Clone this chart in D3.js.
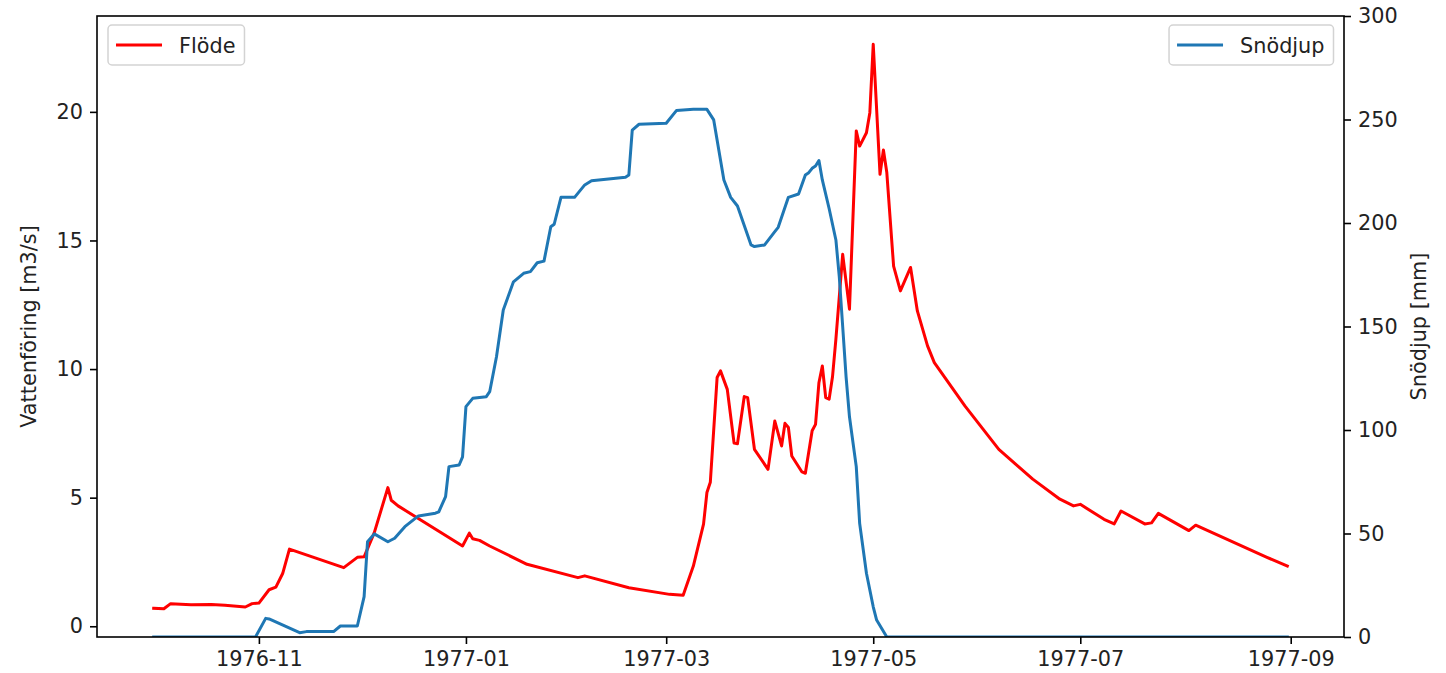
<!DOCTYPE html>
<html>
<head>
<meta charset="utf-8">
<script src="https://cdn.jsdelivr.net/npm/d3@7"></script>
<style>
  body { margin: 0; background: #fff; }
  svg text { font-family: "DejaVu Sans", sans-serif; }
</style>
</head>
<body>
<svg id="chart" width="1446" height="673"></svg>
<script>
// flow (left axis, m3/s)
var flowDates = ["1976-10-01","1976-10-04","1976-10-06","1976-10-12","1976-10-18","1976-10-22","1976-10-28","1976-10-30",
  "1976-11-01","1976-11-04","1976-11-06","1976-11-08","1976-11-10","1976-11-26","1976-11-30",
  "1976-12-02","1976-12-05","1976-12-09","1976-12-10","1976-12-12","1976-12-31",
  "1977-01-02","1977-01-03","1977-01-05","1977-01-08","1977-01-19",
  "1977-02-03","1977-02-05","1977-02-18",
  "1977-03-02","1977-03-06","1977-03-09","1977-03-12","1977-03-13","1977-03-14","1977-03-16","1977-03-17","1977-03-19","1977-03-21","1977-03-22","1977-03-24","1977-03-25","1977-03-27","1977-03-31",
  "1977-04-02","1977-04-04","1977-04-05","1977-04-06","1977-04-07","1977-04-10","1977-04-11","1977-04-13","1977-04-14","1977-04-15","1977-04-16","1977-04-17","1977-04-18","1977-04-19","1977-04-20","1977-04-22","1977-04-24","1977-04-26","1977-04-27","1977-04-29","1977-04-30",
  "1977-05-01","1977-05-03","1977-05-04","1977-05-05","1977-05-07","1977-05-09","1977-05-12","1977-05-14","1977-05-17","1977-05-19","1977-05-28",
  "1977-06-07","1977-06-17","1977-06-25","1977-06-29",
  "1977-07-01","1977-07-08","1977-07-11","1977-07-13","1977-07-20","1977-07-22","1977-07-24",
  "1977-08-02","1977-08-04","1977-08-25","1977-08-31"];
var flowValues = [0.70,0.68,0.88,0.84,0.85,0.82,0.75,0.88,
  0.90,1.42,1.52,2.05,3.00,2.28,2.68,
  2.70,3.64,5.39,4.90,4.68,3.12,
  3.62,3.40,3.34,3.12,2.41,
  1.89,1.96,1.50,
  1.24,1.21,2.34,3.97,5.20,5.60,9.67,9.93,9.21,7.12,7.10,8.93,8.89,6.88,6.10,
  7.98,7.01,7.89,7.73,6.62,6.00,5.95,7.60,7.85,9.47,10.12,8.89,8.83,9.70,11.16,14.46,12.33,19.26,18.67,19.19,19.97,
  22.63,17.57,18.52,17.64,14.00,13.04,13.95,12.26,10.90,10.25,8.57,
  6.88,5.72,4.94,4.68,
  4.74,4.16,3.98,4.48,3.98,4.02,4.39,
  3.72,3.93,2.68,2.34];

// snow depth (right axis, mm)
var snowDates = ["1976-10-01","1976-10-31",
  "1976-11-03","1976-11-04","1976-11-13","1976-11-15","1976-11-23","1976-11-25","1976-11-30",
  "1976-12-02","1976-12-03","1976-12-05","1976-12-09","1976-12-11","1976-12-14","1976-12-18","1976-12-23","1976-12-24","1976-12-26","1976-12-27","1976-12-30","1976-12-31",
  "1977-01-01","1977-01-03","1977-01-07","1977-01-08","1977-01-10","1977-01-12","1977-01-15","1977-01-18","1977-01-20","1977-01-22","1977-01-24","1977-01-26","1977-01-27","1977-01-29",
  "1977-02-02","1977-02-05","1977-02-07","1977-02-17","1977-02-18","1977-02-19","1977-02-21",
  "1977-03-01","1977-03-04","1977-03-09","1977-03-13","1977-03-15","1977-03-18","1977-03-20","1977-03-22","1977-03-26","1977-03-27","1977-03-30",
  "1977-04-02","1977-04-03","1977-04-06","1977-04-09","1977-04-11","1977-04-12","1977-04-13","1977-04-14","1977-04-15","1977-04-16","1977-04-18","1977-04-20","1977-04-21","1977-04-22","1977-04-23","1977-04-24","1977-04-26","1977-04-27","1977-04-29",
  "1977-05-01","1977-05-02","1977-05-05","1977-08-31"];
var snowValues = [0,0,
  9.0,8.7,2.1,2.6,2.6,5.3,5.3,
  19.5,46,49.8,46,47.7,53.3,58.5,59.8,60.5,67.8,82.3,83.1,87,
  111.3,115.3,116.1,118.5,135.4,158,171.6,175.7,176.5,180.8,181.6,198.2,199.4,212.4,
  212.4,218.4,220.4,222.1,223.2,244.9,247.7,
  248.2,254.3,254.9,254.9,249.8,220.8,212.4,208.2,189.4,188.6,189.4,
  195.8,197.9,212.4,214,223.2,224.3,226.4,227.5,230.2,220.8,207,191.8,174,150,125.7,106.4,82.3,54.9,30.8,
  14.6,8.2,0,0];

var leftTicks = [0,5,10,15,20];
var rightTicks = [0,50,100,150,200,250,300];
var xTickLabels = ["1976-11","1977-01","1977-03","1977-05","1977-07","1977-09"];

var parse = d3.timeParse("%Y-%m-%d");
var flow = flowDates.map(function(d,i){ return {date: parse(d), v: flowValues[i]}; });
var snow = snowDates.map(function(d,i){ return {date: parse(d), v: snowValues[i]}; });

var plotL = 97, plotR = 1344, plotT = 16, plotB = 637;
var fs = 20.8;
var svg = d3.select("#chart");

// matplotlib-like 5% margins
var tExt = d3.extent(flow, function(d){ return d.date; });
var tPad = (tExt[1] - tExt[0]) * 0.05;
var x = d3.scaleTime()
  .domain([new Date(+tExt[0] - tPad), new Date(+tExt[1] + tPad)])
  .range([plotL, plotR]);

var fExt = d3.extent(flowValues);
var fPad = (fExt[1] - fExt[0]) * 0.05;
var yL = d3.scaleLinear().domain([fExt[0] - fPad, fExt[1] + fPad]).range([plotB, plotT]);
var yR = d3.scaleLinear().domain([0, 300]).range([plotB, plotT]);

var xTicks = xTickLabels.map(function(s){ return d3.timeParse("%Y-%m")(s); });

function styleAxis(g) {
  g.select(".domain").remove();
  g.selectAll(".tick line").attr("stroke", "#000").attr("stroke-width", 1.6);
  g.selectAll(".tick text").attr("fill", "#222").style("font-size", fs + "px");
}

svg.append("g")
  .attr("transform", "translate(0," + plotB + ")")
  .call(d3.axisBottom(x).tickValues(xTicks).tickFormat(d3.timeFormat("%Y-%m")).tickSize(7).tickPadding(7))
  .call(styleAxis);

svg.append("g")
  .attr("transform", "translate(" + plotL + ",0)")
  .call(d3.axisLeft(yL).tickValues(leftTicks).tickFormat(d3.format("d")).tickSize(7).tickPadding(7))
  .call(styleAxis);

svg.append("g")
  .attr("transform", "translate(" + plotR + ",0)")
  .call(d3.axisRight(yR).tickValues(rightTicks).tickFormat(d3.format("d")).tickSize(7).tickPadding(7))
  .call(styleAxis);

// lines
svg.append("clipPath").attr("id", "plotclip")
  .append("rect").attr("x", plotL).attr("y", plotT).attr("width", plotR - plotL).attr("height", plotB - plotT);

var lineL = d3.line().x(function(d){ return x(d.date); }).y(function(d){ return yL(d.v); });
var lineR = d3.line().x(function(d){ return x(d.date); }).y(function(d){ return yR(d.v); });

svg.append("path").datum(flow)
  .attr("clip-path", "url(#plotclip)")
  .attr("d", lineL).attr("fill", "none").attr("stroke", "red")
  .attr("stroke-width", 3).attr("stroke-linejoin", "round").attr("stroke-linecap", "square");

svg.append("path").datum(snow)
  .attr("clip-path", "url(#plotclip)")
  .attr("d", lineR).attr("fill", "none").attr("stroke", "#1f77b4")
  .attr("stroke-width", 3).attr("stroke-linejoin", "round").attr("stroke-linecap", "square");

// spines
svg.append("rect")
  .attr("x", plotL).attr("y", plotT).attr("width", plotR - plotL).attr("height", plotB - plotT)
  .attr("fill", "none").attr("stroke", "#000").attr("stroke-width", 1.6);

// axis labels
svg.append("text")
  .attr("transform", "translate(36," + ((plotT + plotB) / 2) + ") rotate(-90)")
  .attr("text-anchor", "middle").attr("fill", "#222").style("font-size", fs + "px")
  .text("Vattenföring [m3/s]");

svg.append("text")
  .attr("transform", "translate(1426," + ((plotT + plotB) / 2) + ") rotate(-90)")
  .attr("text-anchor", "middle").attr("fill", "#222").style("font-size", fs + "px")
  .text("Snödjup [mm]");

// legends
function legend(label, color, anchorRight) {
  var g = svg.append("g");
  var box = g.append("rect").attr("rx", 4).attr("ry", 4)
    .attr("fill", "#fff").attr("fill-opacity", 0.8)
    .attr("stroke", "#d3d3d3").attr("stroke-width", 1.5);
  var t = g.append("text").attr("fill", "#222").style("font-size", fs + "px").text(label);
  var tw = t.node().getComputedTextLength();
  var w = 8 + 46 + 17 + tw + 9, h = 40;
  var bx = anchorRight ? plotR - 10.5 - w : plotL + 11;
  var by = plotT + 9;
  box.attr("x", bx).attr("y", by).attr("width", w).attr("height", h);
  g.append("line").attr("x1", bx + 8).attr("x2", bx + 54)
    .attr("y1", by + 20).attr("y2", by + 20)
    .attr("stroke", color).attr("stroke-width", 3);
  t.attr("x", bx + 71).attr("y", by + 27.5);
}
legend("Flöde", "red", false);
legend("Snödjup", "#1f77b4", true);
</script>
</body>
</html>
